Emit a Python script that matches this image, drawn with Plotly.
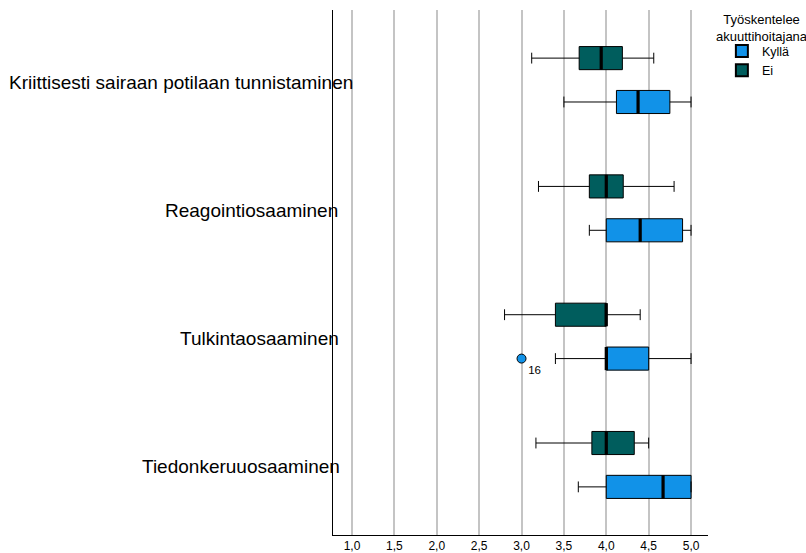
import plotly.graph_objects as go

categories = ["Kriittisesti sairaan potilaan tunnistaminen", "Reagointiosaaminen",
              "Tulkintaosaaminen", "Tiedonkeruuosaaminen"]
groups = ["Kyllä", "Ei"]
legend_title = "Työskentelee<br>akuuttihoitajana"

# five-number summaries per category (order as categories)
kylla_low = [3.5, 3.8, 3.4, 3.67]
kylla_q1 = [4.12, 4.0, 4.0, 4.0]
kylla_med = [4.375, 4.4, 4.0, 4.67]
kylla_q3 = [4.75, 4.9, 4.5, 5.0]
kylla_high = [5.0, 5.0, 5.0, 5.0]

ei_low = [3.12, 3.2, 2.8, 3.17]
ei_q1 = [3.68, 3.8, 3.4, 3.83]
ei_med = [3.94, 4.0, 4.0, 4.0]
ei_q3 = [4.19, 4.2, 4.0, 4.33]
ei_high = [4.56, 4.8, 4.4, 4.5]

# outlier (Kyllä, Tulkintaosaaminen)
outlier_cat = [2]
outlier_val = [3.0]
outlier_label = ["16"]

tick_vals = [1.0, 1.5, 2.0, 2.5, 3.0, 3.5, 4.0, 4.5, 5.0]
tick_text = ["1,0", "1,5", "2,0", "2,5", "3,0", "3,5", "4,0", "4,5", "5,0"]

colors = {"Kyllä": "#1192e8", "Ei": "#005d5d"}
FONT = "Arial, Liberation Sans, sans-serif"

offset = 0.171
bw = 0.18
pos = list(range(len(categories)))

fig = go.Figure()

def add_boxes(name, low, q1, med, q3, high, sign):
    ys = [p + sign * offset for p in pos]
    fig.add_trace(go.Box(
        y=ys, q1=q1, median=med, q3=q3, lowerfence=low, upperfence=high,
        orientation="h", width=bw, whiskerwidth=0.47,
        fillcolor=colors[name], line=dict(color="black", width=1),
        boxpoints=False, showlegend=False, hoverinfo="skip", name=name))
    # thick median lines
    mx, my = [], []
    for y, m in zip(ys, med):
        mx += [m, m, None]
        my += [y - bw / 2, y + bw / 2, None]
    fig.add_trace(go.Scatter(x=mx, y=my, mode="lines",
                             line=dict(color="black", width=3.2),
                             showlegend=False, hoverinfo="skip"))

add_boxes("Ei", ei_low, ei_q1, ei_med, ei_q3, ei_high, -1)
add_boxes("Kyllä", kylla_low, kylla_q1, kylla_med, kylla_q3, kylla_high, +1)

fig.add_trace(go.Scatter(
    x=outlier_val, y=[c + offset for c in outlier_cat], mode="markers+text",
    marker=dict(symbol="circle", size=9, color=colors["Kyllä"],
                line=dict(color="black", width=1)),
    text=outlier_label, textposition="bottom right",
    textfont=dict(family=FONT, size=11.5, color="black"),
    showlegend=False, hoverinfo="skip"))

# legend entries
for g in groups:
    fig.add_trace(go.Scatter(
        x=[None], y=[None], mode="markers", name=g,
        marker=dict(symbol="square", size=14, color=colors[g],
                    line=dict(color="black", width=1))))

# category labels
label_right = [0.0587, 0.0187, 0.0213, 0.024]
for c, p, xr in zip(categories, pos, label_right):
    fig.add_annotation(x=xr, xref="paper", y=p, yref="y", text=c, yshift=-2,
                       showarrow=False, xanchor="right", yanchor="middle",
                       font=dict(family=FONT, size=19, color="black"))

# legend title (centered above the legend items)
fig.add_annotation(x=1.144, xref="paper", y=1.0, yref="paper", text=legend_title,
                   showarrow=False, xanchor="center", yanchor="top",
                   align="center", font=dict(family=FONT, size=13, color="black"))

fig.update_layout(
    width=806, height=553,
    margin=dict(l=333, r=98, t=10, b=18, autoexpand=False),
    paper_bgcolor="white", plot_bgcolor="white",
    font=dict(family=FONT, color="black"),
    legend=dict(
        x=1.037, xanchor="left", y=0.95, yanchor="top",
        font=dict(family=FONT, size=12.5), itemsizing="constant",
        tracegroupgap=0, bgcolor="rgba(0,0,0,0)"),
    xaxis=dict(range=[0.776, 5.2], tickvals=tick_vals, ticktext=tick_text,
               showgrid=True, gridcolor="#c4c4c4", gridwidth=1.5,
               showline=True, linecolor="black", linewidth=1, ticks="",
               zeroline=False, tickfont=dict(family=FONT, size=12)),
    yaxis=dict(range=[3.546, -0.546], showgrid=False, showticklabels=False,
               showline=True, linecolor="black", linewidth=1, ticks="",
               zeroline=False),
)

fig.write_html("out.html", config={"displayModeBar": False},
               post_script="document.body.style.margin='0px';document.body.style.overflow='hidden';")
